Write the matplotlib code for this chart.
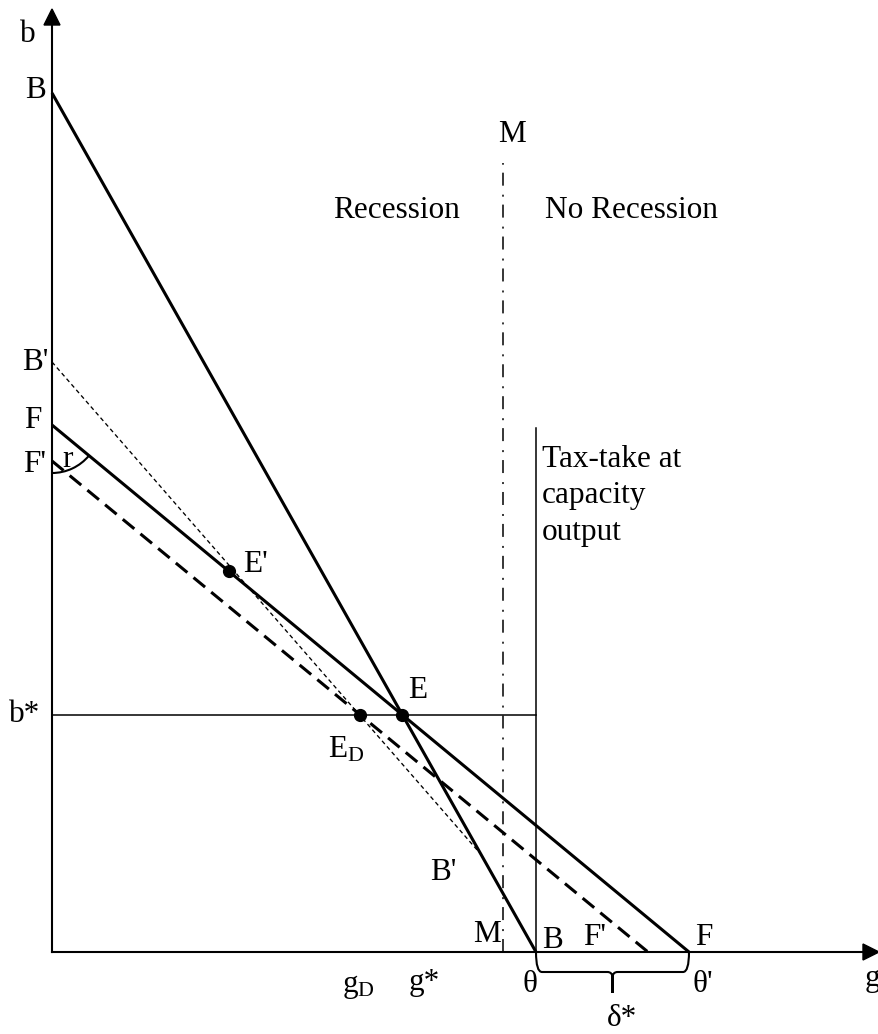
#!/usr/bin/env python3
import numpy as np
from matplotlib import pyplot as plt
from matplotlib.patches import Arc, PathPatch
from matplotlib.path import Path

out_filename = "out.png"

# diagram values (g along the horizontal axis, b up the vertical axis)
b_intercept = 859        # B
theta = 484              # B line meets g axis
f_intercept = 527        # F
theta_prime = 637        # F line meets g axis
fp_intercept = 491       # F'
fp_end = 596             # F' line meets g axis
bp_intercept = 590       # B'
bp_g_intercept = 514     # slope of the B' line
g_eprime = 177           # E' on the F line
g_m = 451                # M line
m_top = 789
tax_top = 524
g_max, b_max = 827, 943

plt.rcParams["font.family"] = ["Liberation Serif", "DejaVu Serif"]
plt.rcParams["mathtext.fontset"] = "custom"
plt.rcParams["mathtext.rm"] = "Liberation Serif"
plt.rcParams["mathtext.it"] = "Liberation Serif:italic"
FS = 22.5


def line_b(g, b0, g0):
    return b0 * (1 - np.asarray(g, dtype=float) / g0)


def intersect(b1, g1, b2, g2):
    # b1(1-g/g1) = b2(1-g/g2)
    g = (b1 - b2) / (b1 / g1 - b2 / g2)
    return g, line_b(g, b1, g1)


def main():
    fig = plt.figure(figsize=(8.79, 10.34), dpi=100)
    ax = fig.add_axes([0, 0, 1, 1])
    ax.set_xlim(-52, 827)
    ax.set_ylim(-82, 952)
    ax.axis("off")

    # axes with arrow heads
    ax.plot([0, 0], [0, b_max - 12], color="k", lw=1.5)
    ax.plot([0, g_max - 12], [0, 0], color="k", lw=1.5)
    ax.fill([0, -8, 8], [b_max, b_max - 16, b_max - 16], color="k")
    ax.fill([g_max, g_max - 16, g_max - 16], [0, 8, -8], color="k")

    e_g, e_b = intersect(b_intercept, theta, f_intercept, theta_prime)
    b_star = e_b
    ed_g = fp_end * (1 - b_star / fp_intercept)
    ep_b = line_b(g_eprime, f_intercept, theta_prime)
    bp_g, bp_b = intersect(bp_intercept, bp_g_intercept, b_intercept, theta)

    # B line and F line
    ax.plot([0, theta], [b_intercept, 0], color="k", lw=2.2, solid_capstyle="butt")
    ax.plot([0, theta_prime], [f_intercept, 0], color="k", lw=2.2, solid_capstyle="butt")
    # F' dashed line
    ax.plot([0, fp_end], [fp_intercept, 0], color="k", lw=2.2,
            linestyle=(0, (4.9, 2.6)), dash_capstyle="butt")
    # B' dotted line
    ax.plot([0, bp_g], [bp_intercept, bp_b], color="k", lw=0.95,
            linestyle=(0, (3.2, 2.4)))
    # b* horizontal and tax-take vertical
    ax.plot([0, theta], [b_star, b_star], color="k", lw=1.1)
    ax.plot([theta, theta], [0, tax_top], color="k", lw=1.1)
    # M dash-dot line
    ax.plot([g_m, g_m], [0, m_top], color="k", lw=1.1,
            linestyle=(0, (8.5, 5.2, 1.3, 5.9)))

    # points
    ax.plot([e_g, ed_g, g_eprime], [e_b, b_star, ep_b], "o", color="k", ms=8.5)

    # angle r
    ang = np.degrees(np.arctan2(-f_intercept, theta_prime))
    ax.add_patch(Arc((0, f_intercept), 96, 96, theta1=-90, theta2=ang,
                     color="k", lw=1.5))

    # brace between theta and theta'
    mid = (theta + theta_prime) / 2
    verts = [
        (theta, 0), (theta, -20), (theta + 6, -20),
        (mid - 5, -20), (mid, -20), (mid, -26),
        (mid, -41), (mid, -26), (mid, -20),
        (mid + 5, -20), (theta_prime - 6, -20), (theta_prime, -20),
        (theta_prime, 0),
    ]
    codes = [Path.MOVETO, Path.CURVE3, Path.CURVE3,
             Path.LINETO, Path.CURVE3, Path.CURVE3,
             Path.LINETO, Path.LINETO, Path.CURVE3,
             Path.CURVE3, Path.LINETO, Path.CURVE3, Path.CURVE3]
    ax.add_patch(PathPatch(Path(verts, codes), fill=False, lw=1.5, color="k"))

    kw = dict(fontsize=FS, color="k")
    ax.text(-24, 910, "b", ha="center", va="baseline", **kw)
    ax.text(-16, 861, "B", ha="center", va="center", **kw)
    ax.text(-17, 589, "B'", ha="center", va="center", **kw)
    ax.text(-19, 532, "F", ha="center", va="center", **kw)
    ax.text(-17, 487, "F'", ha="center", va="center", **kw)
    ax.text(16, 485, "r", ha="center", va="baseline", **kw)
    ax.text(-27, b_star, "b*", ha="center", va="center", **kw)
    ax.text(191, 380, "E'", ha="left", va="baseline", **kw)
    ax.text(356, 254, "E", ha="left", va="baseline", **kw)
    ax.text(276, 194, r"E$_{\mathrm{D}}$", ha="left", va="baseline", **kw)
    ax.text(378, 72, "B'", ha="left", va="baseline", **kw)
    ax.text(421, 10, "M", ha="left", va="baseline", **kw)
    ax.text(490, 4, "B", ha="left", va="baseline", **kw)
    ax.text(531, 7, "F'", ha="left", va="baseline", **kw)
    ax.text(643, 7, "F", ha="left", va="baseline", **kw)
    ax.text(446, 810, "M", ha="left", va="baseline", **kw)
    ax.text(408, 734, "Recession", ha="right", va="baseline", **kw)
    ax.text(493, 734, "No Recession", ha="left", va="baseline", **kw)
    ax.text(490, 507, "Tax-take at\ncapacity\noutput", ha="left", va="top",
            linespacing=1.33, **kw)
    ax.text(471, -40, "θ", ha="left", va="baseline", **kw)
    ax.text(641, -40, "θ'", ha="left", va="baseline", **kw)
    ax.text(813, -34, "g", ha="left", va="baseline", **kw)
    ax.text(555, -74, "δ*", ha="left", va="baseline", **kw)
    ax.text(290, -40, r"g$_{\mathrm{D}}$", ha="left", va="baseline", **kw)
    ax.text(357, -38, "g*", ha="left", va="baseline", **kw)

    fig.savefig(out_filename, dpi=100)


if __name__ == "__main__":
    main()
